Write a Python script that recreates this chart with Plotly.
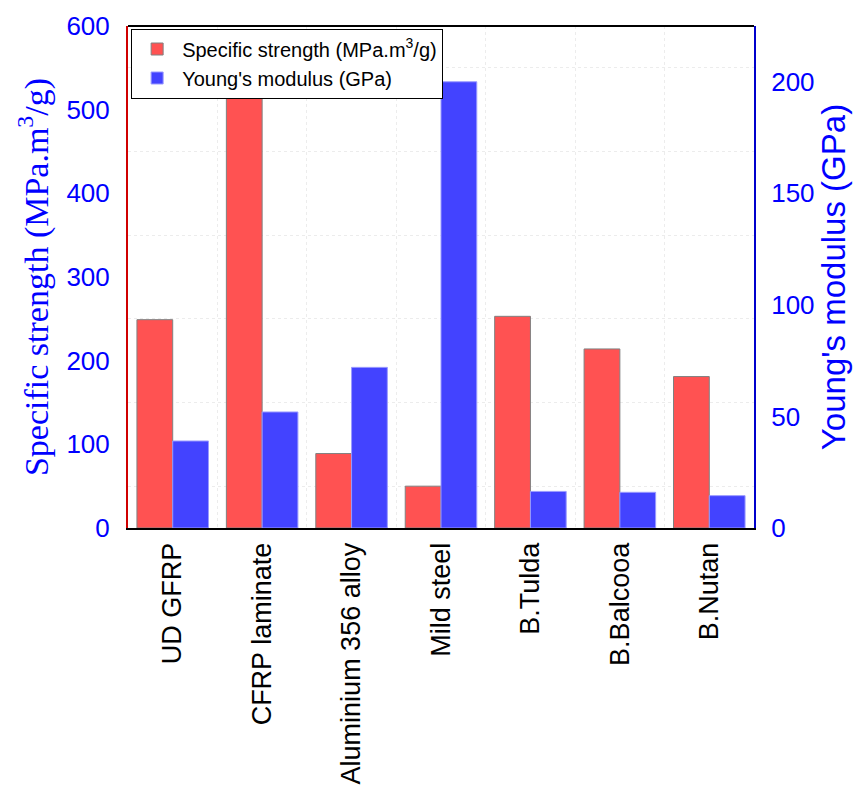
import plotly.graph_objects as go

materials = ["UD GFRP", "CFRP laminate", "Aluminium 356 alloy", "Mild steel",
             "B.Tulda", "B.Balcooa", "B.Nutan"]
specific_strength = [249, 518, 89, 50, 253, 214, 181]      # MPa.m3/g
youngs_modulus = [39, 52, 72, 200, 16.4, 16.0, 14.5]       # GPa

left_ticks = [0, 100, 200, 300, 400, 500, 600]
right_ticks = [0, 50, 100, 150, 200]

SANS = "Liberation Sans, Arial, sans-serif"
SERIF = "Liberation Serif, Times New Roman, serif"
RED = "#FF5252"
BLUE = "#4343FF"

fig = go.Figure()
fig.add_trace(go.Bar(
    x=materials, y=specific_strength,
    name="Specific strength (MPa.m<sup>3</sup>/g)",
    marker=dict(color=RED, line=dict(color="#808080", width=1)),
    width=0.4, offset=-0.4, yaxis="y",
))
fig.add_trace(go.Bar(
    x=materials, y=youngs_modulus,
    name="Young's modulus (GPa)",
    marker=dict(color=BLUE, line=dict(color="#9a9aff", width=1)),
    width=0.4, offset=0.0, yaxis="y2",
))

fig.update_layout(
    width=861, height=789,
    margin=dict(l=128, r=107, t=26, b=261),
    paper_bgcolor="white", plot_bgcolor="white",
    showlegend=True,
    legend=dict(
        x=0.005, y=0.995, xanchor="left", yanchor="top",
        bgcolor="white", bordercolor="black", borderwidth=1,
        font=dict(family=SANS, size=20, color="black"),
        tracegroupgap=0, itemwidth=40,
    ),
    xaxis=dict(
        type="category", tickson="boundaries", automargin=False,
        showgrid=True, gridcolor="#ececec", griddash="dot", gridwidth=1,
        ticks="", tickangle=-90, ticklabelstandoff=2,
        tickfont=dict(family=SANS, size=27, color="black"),
        showline=True, linecolor="black", linewidth=2, mirror=False,
        range=[-0.5, 6.5],
    ),
    yaxis=dict(
        range=[0, 600], tickvals=left_ticks, automargin=False,
        showgrid=False, zeroline=False,
        minor=dict(tick0=50, dtick=100, showgrid=True, gridcolor="#ececec",
                   griddash="dot", gridwidth=1, ticks=""),
        ticks="", ticklabelstandoff=11,
        tickfont=dict(family=SANS, size=26, color="#0000FF"),
        showline=True, linecolor="#D00000", linewidth=2,
        title=dict(text="Specific strength (MPa.m<sup>3</sup>/g)",
                   font=dict(family=SERIF, size=34, color="#0000FF"),
                   standoff=8),
    ),
    yaxis2=dict(
        range=[0, 225], tickvals=right_ticks, automargin=False,
        overlaying="y", side="right",
        showgrid=False, zeroline=False,
        ticks="", ticklabelstandoff=10,
        tickfont=dict(family=SANS, size=26, color="#0000FF"),
        showline=True, linecolor="#0000CC", linewidth=2,
        title=dict(text="Young's modulus (GPa)",
                   font=dict(family=SANS, size=33, color="#0000FF"),
                   standoff=6),
    ),
    bargap=0.2,
)

# black frame edge along the top of the plotting area
fig.add_shape(type="line", xref="paper", yref="paper", x0=0, x1=1, y0=1, y1=1,
              line=dict(color="black", width=2), layer="above")

fig.write_html("out.html")
